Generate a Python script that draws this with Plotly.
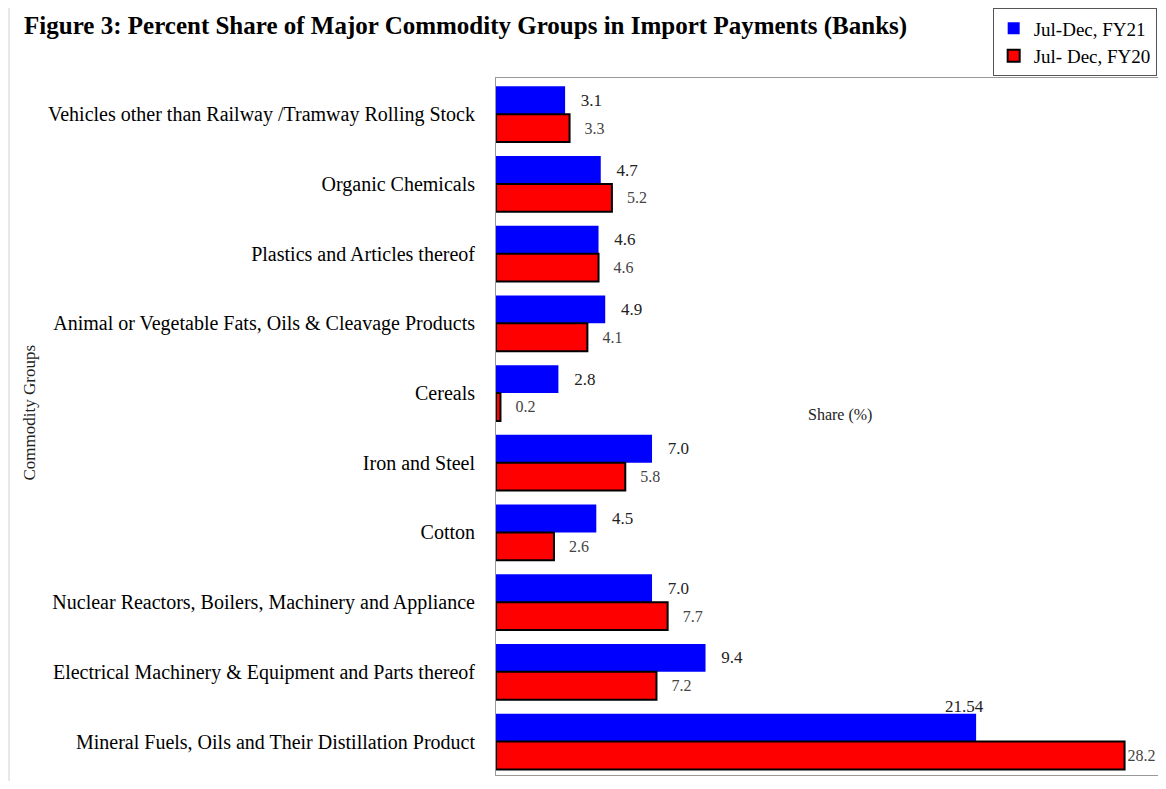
import plotly.graph_objects as go

# Commodity groups, top to bottom as shown in the chart
categories = [
    "Vehicles other than Railway /Tramway Rolling Stock",
    "Organic Chemicals",
    "Plastics and Articles thereof",
    "Animal or Vegetable Fats, Oils & Cleavage Products",
    "Cereals",
    "Iron and Steel",
    "Cotton",
    "Nuclear Reactors, Boilers, Machinery and Appliance",
    "Electrical Machinery & Equipment and Parts thereof",
    "Mineral Fuels, Oils and Their Distillation Product",
]
fy21 = [3.1, 4.7, 4.6, 4.9, 2.8, 7.0, 4.5, 7.0, 9.4, 21.54]
fy20 = [3.3, 5.2, 4.6, 4.1, 0.2, 5.8, 2.6, 7.7, 7.2, 28.2]

SERIF = "Liberation Serif, Times New Roman, serif"
GAP = "\u00a0\u00a0\u00a0"

fy21_text = [GAP + f"{v:.1f}" for v in fy21]
fy21_text[-1] = ""  # 21.54 label sits above the bar, added below
fy20_text = [GAP + f"{v:.1f}" for v in fy20]
fy20_text[-1] = f"{fy20[-1]:.1f}"  # less room at the right edge

fig = go.Figure()

fig.add_trace(go.Bar(
    y=categories,
    x=fy21,
    orientation="h",
    name="Jul-Dec, FY21",
    marker=dict(color="#0000ff", line=dict(width=0)),
    text=fy21_text,
    textposition="outside",
    textfont=dict(family=SERIF, size=17, color="#222222"),
    cliponaxis=False,
))

fig.add_trace(go.Bar(
    y=categories,
    x=fy20,
    orientation="h",
    name="Jul- Dec, FY20",
    marker=dict(color="#ff0000", line=dict(color="#000000", width=2)),
    text=fy20_text,
    textposition="outside",
    textfont=dict(family=SERIF, size=16, color="#444444"),
    cliponaxis=False,
))

# label for the largest FY21 bar, drawn above the bar end
fig.add_annotation(
    x=fy21[-1], y=categories[-1],
    text=f"{fy21[-1]:.2f}",
    showarrow=False,
    xanchor="center", yanchor="bottom",
    xshift=-12, yshift=24,
    font=dict(family=SERIF, size=17, color="#222222"),
)

# x axis title placed in the middle of the plot, as in the original
fig.add_annotation(
    x=0.52, y=0.517, xref="paper", yref="paper",
    text="Share (%)",
    showarrow=False,
    font=dict(family=SERIF, size=16, color="#222222"),
)

# y axis title
fig.add_annotation(
    x=-0.704, y=0.52, xref="paper", yref="paper",
    xanchor="center", yanchor="middle",
    text="Commodity Groups",
    textangle=-90,
    showarrow=False,
    font=dict(family=SERIF, size=17, color="#222222"),
)

# thin frame line on the left edge of the page
fig.add_shape(
    type="line", xref="paper", yref="paper",
    x0=-0.7356, x1=-0.7356, y0=-0.02, y1=1.11,
    line=dict(color="#d0d0d0", width=1),
)

fig.update_layout(
    width=1150,
    height=773,
    margin=dict(l=488, r=0, t=67, b=6),
    paper_bgcolor="white",
    plot_bgcolor="white",
    barmode="group",
    bargap=0.2,
    bargroupgap=0,
    title=dict(
        text="<b>Figure 3: Percent Share of Major Commodity Groups in Import Payments (Banks)</b>",
        x=0.014, xanchor="left", xref="container",
        y=0.978, yanchor="middle",
        font=dict(family=SERIF, size=25, color="#000000"),
    ),
    legend=dict(
        x=0.998, xanchor="right",
        y=1.1, yanchor="top",
        bgcolor="white",
        bordercolor="#555555",
        borderwidth=1,
        font=dict(family=SERIF, size=19, color="#000000"),
        itemwidth=30,
        tracegroupgap=0,
    ),
    font=dict(family=SERIF, color="#000000"),
)

fig.update_xaxes(
    range=[0, 29.7],
    showticklabels=False,
    ticks="",
    showgrid=False,
    zeroline=False,
    showline=True,
    linecolor="#999999",
    linewidth=1,
    mirror=True,
)

fig.update_yaxes(
    range=[9.48, -0.52],
    showgrid=False,
    ticks="",
    ticklabelstandoff=16,
    tickfont=dict(family=SERIF, size=20, color="#000000"),
    showline=True,
    linecolor="#999999",
    linewidth=1,
    mirror=True,
)

fig.write_html("out.html")
